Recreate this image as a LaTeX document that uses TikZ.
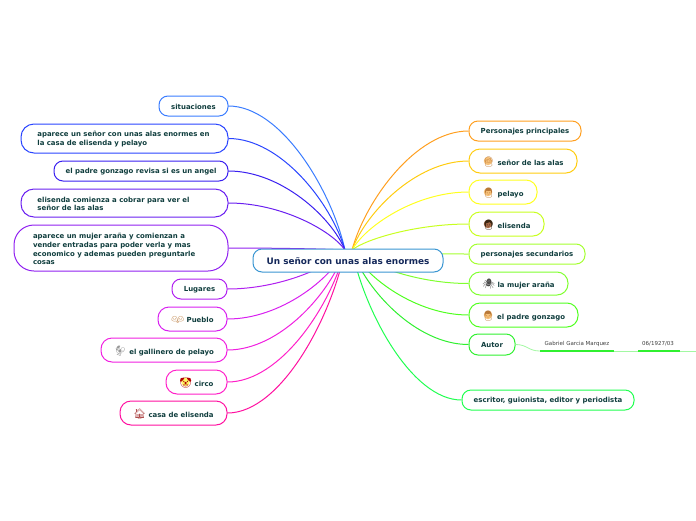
\documentclass[tikz,border=0pt]{standalone}
\usepackage{fontspec}
\setmainfont{DejaVu Sans}
\newfontfamily\emofont{Noto Emoji}
\usetikzlibrary{calc,backgrounds}
\definecolor{txtc}{HTML}{0F3D3D}
\definecolor{rootc}{HTML}{14285A}
\definecolor{rootb}{HTML}{3A96D2}
\definecolor{l1}{HTML}{3A7CFF}\definecolor{l2}{HTML}{2A45FF}\definecolor{l3}{HTML}{3A20F0}
\definecolor{l4}{HTML}{6A20F0}\definecolor{l5}{HTML}{9020F0}\definecolor{l6}{HTML}{B020F0}
\definecolor{l7}{HTML}{D820F0}\definecolor{l8}{HTML}{F020E0}\definecolor{l9}{HTML}{FF20C8}
\definecolor{l10}{HTML}{FF10A0}
\definecolor{r1}{HTML}{FF9F20}\definecolor{r2}{HTML}{FFCC10}\definecolor{r3}{HTML}{FFFF20}
\definecolor{r4}{HTML}{C8FF20}\definecolor{r5}{HTML}{A4FF30}\definecolor{r6}{HTML}{80FF30}
\definecolor{r7}{HTML}{50FF20}\definecolor{r8}{HTML}{30F030}\definecolor{r9}{HTML}{20FF50}
\definecolor{skin}{HTML}{F6C078}
\definecolor{skind}{HTML}{B87838}
\definecolor{hair}{HTML}{A86A48}
\tikzset{
  boxn/.style={draw=#1,line width=1pt,inner sep=0pt},
  txtn/.style={inner sep=0pt,text=txtc,align=left,yshift=-0.9pt,
    font=\fontsize{6.95}{8.9}\selectfont\bfseries},
  roottxt/.style={inner sep=0pt,text=rootc,yshift=-0.8pt,
    font=\fontsize{8.9}{10}\selectfont\bfseries},
  edgen/.style={draw=#1,line width=1pt},
  blobn/.style={circle,fill=#1,inner sep=0pt,minimum size=8.5pt},
  subtxt/.style={font=\fontsize{5.5}{6.5}\selectfont,text=black!75,inner sep=0pt}
}
% name, x1, y1, x2, y2, radius, colour, text
\newcommand{\bx}[8]{%
  \pgfmathsetmacro{\cxx}{(#2+#4)/2}\pgfmathsetmacro{\cyy}{(#3+#5)/2}%
  \pgfmathsetmacro{\wdd}{#4-#2}\pgfmathsetmacro{\htt}{#5-#3}%
  \node[boxn=#7,rounded corners=#6pt,minimum width=\wdd pt,minimum height=\htt pt,label={[txtn]center:{#8}}] (#1) at (\cxx,\cyy) {};}
\newcommand{\emj}[2]{{\emofont\fontsize{10}{10}\selectfont\textcolor{#1}{#2}}\hspace{2.5pt}}
% curve from a box to a hub
\newcommand{\lnk}[4]{%
  \draw[edgen=#3] (#1.#4) .. controls ($(#1.#4)!.45!(#1.#4 -| #2)$) and ($(#2)!.42!($(#2 |- #1.#4)!.28!(#1.#4)$)$) .. (#2);}
\begin{document}
\begin{tikzpicture}[x=1pt,y=-1pt]
\useasboundingbox (0,0) rectangle (696,520);
\coordinate (hl) at (345,250);
\coordinate (hr) at (352,250);
\node[draw=rootb,fill=white,line width=1pt,rounded corners=9pt,minimum width=190pt,minimum height=23pt,inner sep=0pt,label={[roottxt]center:{Un señor con unas alas enormes}}] (root) at (348,260.5) {};
% left
\bx{a1}{159}{96}{228}{116}{9}{l1}{situaciones}
\bx{a2}{21}{124}{228}{153}{13}{l2}{aparece un señor con unas alas enormes en\hspace*{2pt}\\la casa de elisenda y pelayo}
\bx{a3}{54}{161}{228}{181}{9}{l3}{el padre gonzago revisa si es un angel}
\bx{a4}{21}{189}{228}{217}{13}{l4}{elisenda comienza a cobrar para ver el\hspace*{22pt}\\señor de las alas}
\bx{a5}{14}{225}{228}{271}{20}{l5}{aparece un mujer araña y comienzan a\hspace*{24pt}\\vender entradas para poder verla y mas\\economico y ademas pueden preguntarle\\cosas}
\bx{a6}{172}{279}{227}{299}{9}{l6}{Lugares}
\bx{a7}{158}{307}{227}{331}{11}{l7}{\emj{skind}{👫}Pueblo}
\bx{a8}{101}{338}{227}{362}{11}{l8}{\emj{black!40}{🐓}el gallinero de pelayo}
\bx{a9}{166}{370}{227}{394}{11}{l9}{\emj{red!70!black}{🤡}circo}
\bx{a10}{120}{401}{227}{425}{11}{l10}{\emj{red!55!black!70}{🏠}casa de elisenda}
% right
\bx{b1}{469}{121}{581}{141}{9}{r1}{Personajes principales}
\bx{b2}{469}{149}{577}{173}{11}{r2}{\emj{skind}{👴}señor de las alas}
\bx{b3}{469}{180}{537}{204}{11}{r3}{\emj{skind}{👨}pelayo}
\bx{b4}{469}{212}{544}{236}{11}{r4}{\emj{black!70!brown}{👩}elisenda}
\bx{b5}{469}{244}{585}{264}{9}{r5}{personajes secundarios}
\bx{b6}{469}{272}{568}{295}{11}{r6}{\emj{black!70}{🕷}la mujer araña}
\bx{b7}{469}{303}{578}{327}{11}{r7}{\emj{skind}{👨}el padre gonzago}
\bx{b8}{469}{334}{515}{355}{9}{r8}{Autor}
\bx{b9}{462}{390}{634}{410}{9}{r9}{escritor, guionista, editor y periodista}
% sub-branch of Autor
\node[subtxt,anchor=west] (g1) at (544.5,344) {Gabriel Garcia Marquez};
\node[subtxt,anchor=west] (g2) at (642,344) {06/1927/03};
\coordinate (s0) at (540,351);
\coordinate (s1) at (614,351);
\coordinate (s2) at (638,351);
\coordinate (s3) at (680,351);
\coordinate (s4) at (696,351);
\begin{pgfonlayer}{background}
\node[blobn=skin] (e1) at (488,161) {};
\node[blobn=skin] (e2) at (488,192) {};
\node[blobn=hair] (e3) at (488,224) {};
\node[blobn=skin] (e4) at (488,315) {};
\node[blobn=yellow!60!white] (e5) at (185.5,382) {};
\lnk{a1}{hl}{l1}{east}
\lnk{a2}{hl}{l2}{east}
\lnk{a3}{hl}{l3}{east}
\lnk{a4}{hl}{l4}{east}
\lnk{a5}{hl}{l5}{east}
\lnk{a6}{hl}{l6}{east}
\lnk{a7}{hl}{l7}{east}
\lnk{a8}{hl}{l8}{east}
\lnk{a9}{hl}{l9}{east}
\lnk{a10}{hl}{l10}{east}
\lnk{b1}{hr}{r1}{west}
\lnk{b2}{hr}{r2}{west}
\lnk{b3}{hr}{r3}{west}
\lnk{b4}{hr}{r4}{west}
\lnk{b5}{hr}{r5}{west}
\lnk{b6}{hr}{r6}{west}
\lnk{b7}{hr}{r7}{west}
\lnk{b8}{hr}{r8}{west}
\lnk{b9}{hr}{r9}{west}
\end{pgfonlayer}
\draw[line width=.8pt,color=r8!45!white] (b8.east) .. controls +(12,0) and ($(s0)+(-12,0)$) .. (s0);
\draw[line width=1.6pt,color=r8] (s0) -- (s1);
\draw[line width=1pt,color=r8!45!white] (s1) -- (s2);
\draw[line width=1.6pt,color=r8] (s2) -- (s3);
\draw[line width=1pt,color=r8!45!white] (s3) -- (s4);
\end{tikzpicture}
\end{document}
